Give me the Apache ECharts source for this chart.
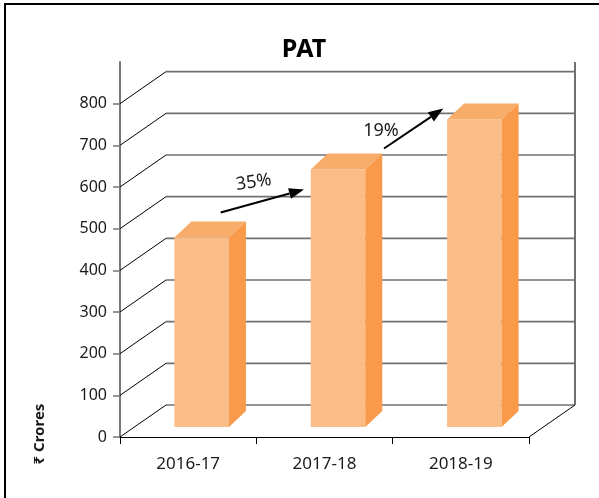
<!DOCTYPE html>
<html>
<head>
<meta charset="utf-8">
<script src="https://cdn.jsdelivr.net/npm/echarts@6/dist/echarts.min.js"></script>
<style>
html,body{margin:0;padding:0;background:#fff;}
#chart{width:599px;height:498px;}
</style>
</head>
<body>
<div id="chart"></div>
<script>
// ---- data ----
const categories = ['2016-17', '2017-18', '2018-19'];
const patValues = [455, 618, 738];
const yTickValues = [0, 100, 200, 300, 400, 500, 600, 700, 800];
const growthLabels = ['35%', '19%'];

// ---- styling / geometry constants ----
const DEPTH_X = 46, DEPTH_Y = -32;       // wall depth
const BAR_OX = 13.5, BAR_OY = -10;       // bar position inside depth
const BAR_DX = 17, BAR_DY = -16;         // bar depth
const FONT = '"Noto Sans", "Open Sans", sans-serif';
// arrow offsets relative to bar tops: [startDx, startDy, endDx, endDy, labelDx, labelDy, labelRot]
const arrowGeom = [
  [19, -25, -34, 20, 33, -30, 0.14],
  [46, -21, -31, -11, -3, -18, 0]
];

const chart = echarts.init(document.getElementById('chart'), null, {renderer: 'canvas'});

function wallRender(params, api) {
  const cs = params.coordSys;
  const L = cs.x, R = cs.x + cs.width;
  const children = [];
  yTickValues.forEach(v => {
    const y = api.coord([0, v])[1];
    children.push({type: 'line', shape: {x1: L, y1: y, x2: L + DEPTH_X, y2: y + DEPTH_Y},
      style: {stroke: '#000', lineWidth: 1}});
    children.push({type: 'line', shape: {x1: L + DEPTH_X, y1: y + DEPTH_Y, x2: R + DEPTH_X, y2: y + DEPTH_Y},
      style: {stroke: '#707070', lineWidth: 1.6}});
  });
  const y0 = api.coord([0, 0])[1];
  children.push({type: 'line', shape: {x1: R + DEPTH_X, y1: cs.y, x2: R + DEPTH_X, y2: y0 + DEPTH_Y},
    style: {stroke: '#707070', lineWidth: 2}});
  children.push({type: 'line', shape: {x1: R, y1: y0, x2: R + DEPTH_X, y2: y0 + DEPTH_Y},
    style: {stroke: '#000', lineWidth: 1}});
  return {type: 'group', children};
}

function barGeom(api, idx, val) {
  const base = api.coord([idx, 0]);
  const top = api.coord([idx, val]);
  const bw = api.size([1, 0])[0] * 0.4;
  const cx = base[0] + BAR_OX;
  return {x0: cx - bw / 2, x1: cx + bw / 2, cx, yb: base[1] + BAR_OY, yt: top[1] + BAR_OY, bw};
}

function barRender(params, api) {
  const g = barGeom(api, api.value(0), api.value(1));
  return {type: 'group', children: [
    {type: 'rect', shape: {x: g.x0, y: g.yt, width: g.bw, height: g.yb - g.yt},
      style: {fill: '#FABD88'}},
    {type: 'polygon', shape: {points: [[g.x0, g.yt], [g.x1, g.yt], [g.x1 + BAR_DX, g.yt + BAR_DY], [g.x0 + BAR_DX, g.yt + BAR_DY]]},
      style: {fill: '#F8AC69'}},
    {type: 'polygon', shape: {points: [[g.x1, g.yt], [g.x1 + BAR_DX, g.yt + BAR_DY], [g.x1 + BAR_DX, g.yb + BAR_DY], [g.x1, g.yb]]},
      style: {fill: '#F89A4A'}}
  ]};
}

function arrowRender(params, api) {
  const i = params.dataIndex;
  const a = barGeom(api, i, patValues[i]);
  const b = barGeom(api, i + 1, patValues[i + 1]);
  const ag = arrowGeom[i];
  const sx = a.cx + ag[0], sy = a.yt + ag[1];
  const ex = b.cx + ag[2], ey = b.yt + ag[3];
  const ang = Math.atan2(ey - sy, ex - sx);
  const hl = 15, hw = 5.5;
  const bx = ex - hl * Math.cos(ang), by = ey - hl * Math.sin(ang);
  const px = -Math.sin(ang) * hw, py = Math.cos(ang) * hw;
  return {type: 'group', children: [
    {type: 'line', shape: {x1: sx, y1: sy, x2: bx, y2: by}, style: {stroke: '#000', lineWidth: 2}},
    {type: 'polygon', shape: {points: [[ex, ey], [bx + px, by + py], [bx - px, by - py]]}, style: {fill: '#000'}},
    {type: 'text', x: sx + ag[4], y: sy + ag[5], rotation: ag[6],
      style: {text: growthLabels[i], fill: '#1a1a1a', font: '18px ' + FONT, align: 'center', verticalAlign: 'middle'}}
  ]};
}

const option = {
  animation: false,
  backgroundColor: '#fff',
  grid: {left: 120, right: 70, top: 62, bottom: 61, containLabel: false},
  xAxis: {
    type: 'category', data: categories, boundaryGap: true,
    axisLine: {show: true, lineStyle: {color: '#000', width: 1}},
    axisTick: {show: true, length: 7, inside: false, lineStyle: {color: '#000'}},
    axisLabel: {color: '#1a1a1a', fontSize: 17, fontFamily: FONT, margin: 19},
    splitLine: {show: false}
  },
  yAxis: {
    type: 'value', min: 0, max: 900, interval: 100,
    axisLine: {show: true, lineStyle: {color: '#777', width: 2}},
    axisTick: {show: true, length: 7, lineStyle: {color: '#777', width: 1.5}, customValues: yTickValues},
    axisLabel: {color: '#1a1a1a', fontSize: 16, fontFamily: FONT, margin: 13, customValues: yTickValues},
    splitLine: {show: false}
  },
  graphic: [
    {type: 'rect', shape: {x: 5, y: 4, width: 620, height: 520}, style: {fill: 'none', stroke: '#000', lineWidth: 2}, z: 100},
    {type: 'text', x: 304, y: 50, style: {text: 'PAT', font: 'bold 25px ' + FONT, fill: '#000', align: 'center', verticalAlign: 'middle'}},
    {type: 'text', x: 40, y: 434, rotation: Math.PI / 2, style: {text: '₹ Crores', font: 'bold 15px ' + FONT, fill: '#1a1a1a', align: 'center', verticalAlign: 'middle'}}
  ],
  series: [
    {type: 'custom', name: 'walls', data: [[0, 0]], renderItem: wallRender, clip: false, z: 1, silent: true},
    {type: 'custom', name: 'PAT', data: categories.map((c, i) => [i, patValues[i]]), renderItem: barRender, clip: false, z: 2},
    {type: 'custom', name: 'growth', data: growthLabels.map((g, i) => [i, 0]), renderItem: arrowRender, clip: false, z: 3, silent: true}
  ]
};
chart.setOption(option);
</script>
</body>
</html>
